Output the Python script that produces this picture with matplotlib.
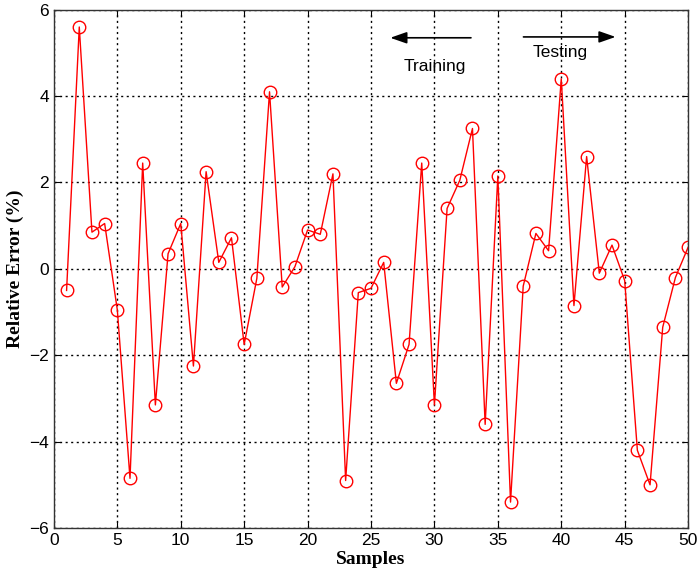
import matplotlib
matplotlib.use("Agg")
import matplotlib.pyplot as plt

samples = list(range(1, 51))
rel_error = [-0.5, 5.6, 0.85, 1.05, -0.95, -4.85, 2.45, -3.15, 0.35, 1.05,
             -2.25, 2.25, 0.15, 0.72, -1.75, -0.22, 4.1, -0.42, 0.05, 0.9,
             0.8, 2.2, -4.9, -0.55, -0.45, 0.15, -2.65, -1.75, 2.45, -3.15,
             1.4, 2.05, 3.25, -3.6, 2.15, -5.4, -0.4, 0.82, 0.42, 4.4,
             -0.85, 2.6, -0.1, 0.55, -0.27, -4.2, -5.0, -1.35, -0.2, 0.5]
xticks = list(range(0, 51, 5))
yticks = list(range(-6, 7, 2))

fig = plt.figure(figsize=(7, 5.85), dpi=100)
ax = fig.add_axes([0.077, 0.0974, 0.906, 0.886])

ax.plot(samples, rel_error, color='red', lw=1, marker='o', markersize=9,
        markerfacecolor='none', markeredgecolor='red', markeredgewidth=1)

ax.set_xlim(0, 50)
ax.set_ylim(-6, 6)
ax.set_xticks(xticks)
ax.set_yticks(yticks)
ax.tick_params(labelsize=12.5, direction='in', length=4, top=True, right=True)
for lab in ax.get_xticklabels() + ax.get_yticklabels():
    lab.set_family('Liberation Sans')
ax.grid(True, color='black', linestyle=(0, (1.5, 2.5)), lw=1)

ax.set_xlabel('Samples', fontsize=14, fontweight='bold', family='Liberation Serif', labelpad=2)
ax.set_ylabel('Relative Error (%)', fontsize=14, fontweight='bold', family='Liberation Serif', labelpad=4)

# training / testing arrows
ax.annotate('', xy=(26.3, 5.35), xytext=(33.1, 5.35),
            arrowprops=dict(arrowstyle='-|>,head_length=1.0,head_width=0.35', color='black', lw=1.2))
ax.text(30.0, 4.68, 'Training', fontsize=12.5, family='Liberation Sans', ha='center', va='center')
ax.annotate('', xy=(44.5, 5.37), xytext=(36.8, 5.37),
            arrowprops=dict(arrowstyle='-|>,head_length=1.0,head_width=0.35', color='black', lw=1.2))
ax.text(39.9, 5.0, 'Testing', fontsize=12.5, family='Liberation Sans', ha='center', va='center')

for s in ax.spines.values():
    s.set_linewidth(1)
    s.set_color('#333333')

fig.savefig('out.png', dpi=100)
